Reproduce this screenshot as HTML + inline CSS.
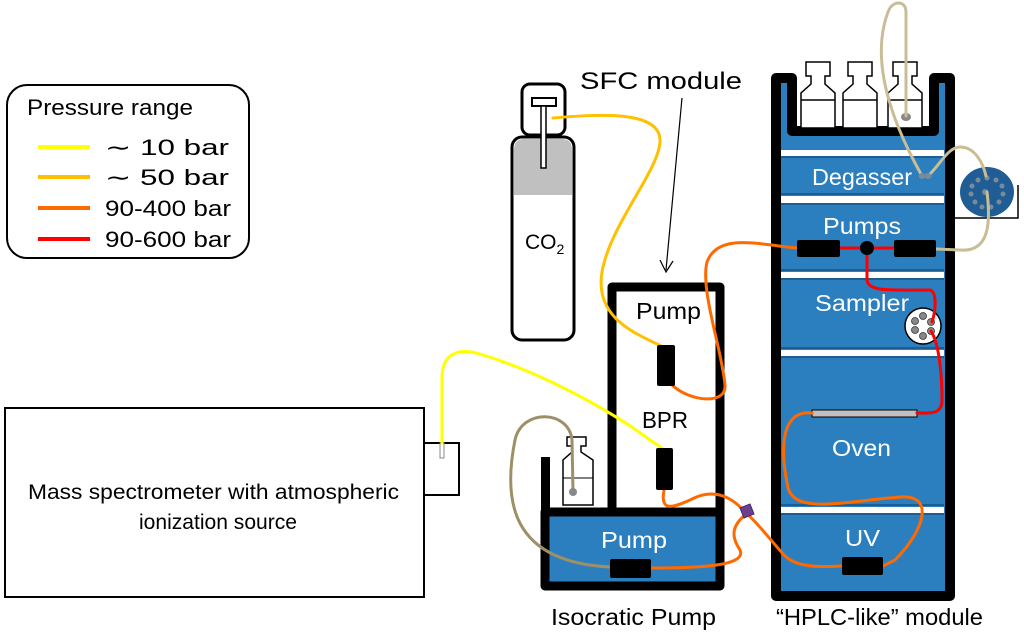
<!DOCTYPE html>
<html><head><meta charset="utf-8"><style>
html,body{margin:0;padding:0;background:#fff;}
svg{display:block;font-family:"Liberation Sans",sans-serif;}
</style></head><body>
<svg width="1024" height="633" viewBox="0 0 1024 633" xmlns="http://www.w3.org/2000/svg">
<!-- Legend -->
<rect x="7" y="85" width="242" height="173" rx="20" fill="#fff" stroke="#000" stroke-width="2"/>
<text x="27" y="115" font-size="22" textLength="166" lengthAdjust="spacingAndGlyphs">Pressure range</text>
<g stroke-width="4">
<line x1="38" y1="147" x2="90" y2="147" stroke="#ffff00"/>
<line x1="38" y1="177" x2="90" y2="177" stroke="#ffc000"/>
<line x1="38" y1="208" x2="90" y2="208" stroke="#ff6a00"/>
<line x1="38" y1="239" x2="90" y2="239" stroke="#ff0000"/>
</g>
<g font-size="22">
<text x="105" y="155" textLength="124" lengthAdjust="spacingAndGlyphs">∼ 10 bar</text>
<text x="105" y="185" textLength="124" lengthAdjust="spacingAndGlyphs">∼ 50 bar</text>
<text x="105" y="216" textLength="126" lengthAdjust="spacingAndGlyphs">90-400 bar</text>
<text x="105" y="247" textLength="126" lengthAdjust="spacingAndGlyphs">90-600 bar</text>
</g>
<!-- Mass spec -->
<rect x="5" y="408" width="419" height="189" fill="#fff" stroke="#000" stroke-width="2"/>
<rect x="424" y="443" width="35" height="52" fill="#fff" stroke="#000" stroke-width="2"/>
<rect x="440" y="443" width="4" height="15" fill="#fff" stroke="#888" stroke-width="1"/>
<text x="28" y="499" font-size="21" textLength="371" lengthAdjust="spacingAndGlyphs">Mass spectrometer  with atmospheric</text>
<text x="139" y="529" font-size="21" textLength="158" lengthAdjust="spacingAndGlyphs">ionization source</text>
<!-- CO2 bottle -->
<rect x="522" y="84" width="43" height="51" rx="8" fill="#fff" stroke="#000" stroke-width="3"/>
<rect x="512" y="137" width="62" height="203" rx="10" fill="#fff" stroke="#000" stroke-width="3"/>
<path d="M514 150 Q514 139 524 139 L562 139 Q572 139 572 150 L572 195 L514 195 Z" fill="#c0c0c0"/>
<rect x="532" y="98" width="24" height="8" fill="#fff" stroke="#000" stroke-width="2"/>
<rect x="541" y="106" width="5" height="62" fill="#fff" stroke="#000" stroke-width="1.5"/>
<text x="525" y="249" font-size="21">CO<tspan font-size="14" dy="5">2</tspan></text>
<!-- SFC module -->
<text x="580" y="89" font-size="24" textLength="162" lengthAdjust="spacingAndGlyphs">SFC module</text>
<line x1="682" y1="98" x2="666" y2="270" stroke="#000" stroke-width="1.2"/>
<path d="M660 260 L666 272 L673 261" fill="none" stroke="#000" stroke-width="1.2"/>
<rect x="612" y="287" width="108" height="230" fill="#fff" stroke="#000" stroke-width="9" stroke-linejoin="round"/>
<text x="636" y="319" font-size="23" textLength="65" lengthAdjust="spacingAndGlyphs">Pump</text>
<text x="642" y="428" font-size="23" textLength="46" lengthAdjust="spacingAndGlyphs">BPR</text>
<!-- isocratic pump -->
<rect x="541" y="457" width="9" height="60" fill="#000"/>
<rect x="545" y="512" width="175" height="74" fill="#2b7fbf" stroke="#000" stroke-width="9" stroke-linejoin="round"/>
<text x="601" y="548" font-size="23" fill="#fff" textLength="66" lengthAdjust="spacingAndGlyphs">Pump</text>
<!-- small bottle -->
<path d="M563 505 L563 460 L572 452 L572 446 L567 446 L567 437 L586 437 L586 446 L581 446 L581 452 L593 460 L593 505 Z" fill="#fff" stroke="#000" stroke-width="1.5"/>
<line x1="563" y1="478" x2="593" y2="478" stroke="#000" stroke-width="1"/>
<!-- HPLC module -->
<path d="M776 596 L776 78 L792 78 L792 131 L934 131 L934 78 L950 78 L950 596 Z" fill="#2b7fbf" stroke="#000" stroke-width="10" stroke-linejoin="round"/>
<g fill="#fff">
<rect x="781" y="150" width="163" height="6"/>
<rect x="781" y="196" width="163" height="7"/>
<rect x="781" y="272" width="163" height="6"/>
<rect x="781" y="350" width="163" height="6"/>
<rect x="781" y="507" width="163" height="6"/>
</g>
<g fill="#1d5d92">
<rect x="781" y="156" width="163" height="2"/><rect x="781" y="193" width="163" height="2"/>
<rect x="781" y="203" width="163" height="2"/><rect x="781" y="269" width="163" height="2"/>
<rect x="781" y="278" width="163" height="2"/><rect x="781" y="347" width="163" height="2"/>
<rect x="781" y="356" width="163" height="2"/><rect x="781" y="504" width="163" height="2"/>
<rect x="781" y="513" width="163" height="2"/>
</g>
<g font-size="23" fill="#fff">
<text x="812" y="185" textLength="100" lengthAdjust="spacingAndGlyphs">Degasser</text>
<text x="823" y="234" textLength="78" lengthAdjust="spacingAndGlyphs">Pumps</text>
<text x="815" y="311" textLength="94" lengthAdjust="spacingAndGlyphs">Sampler</text>
<text x="832" y="456" textLength="59" lengthAdjust="spacingAndGlyphs">Oven</text>
<text x="845" y="546" textLength="35" lengthAdjust="spacingAndGlyphs">UV</text>
</g>
<!-- bottles -->
<g fill="#fff" stroke="#000" stroke-width="1.5">
<path d="M801 128 L801 93 L811 84 L811 76 L806 76 L806 62 L830 62 L830 76 L825 76 L825 84 L835 93 L835 128 Z"/>
<path d="M843 128 L843 93 L853 84 L853 76 L848 76 L848 62 L872 62 L872 76 L867 76 L867 84 L877 93 L877 128 Z"/>
<path d="M888 128 L888 93 L898 84 L898 76 L893 76 L893 62 L917 62 L917 76 L912 76 L912 84 L922 93 L922 128 Z"/>
<line x1="801" y1="100" x2="835" y2="100"/><line x1="843" y1="100" x2="877" y2="100"/><line x1="888" y1="100" x2="922" y2="100"/>
</g>
<ellipse cx="906" cy="117" rx="5" ry="4" fill="#888"/>
<!-- rotary valve -->
<path d="M955 218 L1018 218 L1018 185" fill="none" stroke="#000" stroke-width="1.5"/>
<ellipse cx="987" cy="192" rx="27" ry="25" fill="#1f5d94"/>
<g fill="#7a8a99">
<circle cx="987" cy="178" r="2.5"/><circle cx="996" cy="180" r="2.5"/><circle cx="1002" cy="186" r="2.5"/><circle cx="1003" cy="194" r="2.5"/><circle cx="999" cy="202" r="2.5"/><circle cx="991" cy="207" r="2.5"/><circle cx="982" cy="207" r="2.5"/><circle cx="975" cy="202" r="2.5"/><circle cx="971" cy="194" r="2.5"/><circle cx="972" cy="186" r="2.5"/><circle cx="978" cy="180" r="2.5"/><circle cx="985" cy="192" r="3"/>
</g>
<!-- sampler valve -->
<circle cx="923" cy="326" r="18" fill="#fff" stroke="#000" stroke-width="1.5"/>
<g fill="#888" stroke="#333" stroke-width="0.8">
<circle cx="923" cy="316" r="3.5"/><circle cx="915" cy="321" r="3.5"/><circle cx="915" cy="330" r="3.5"/><circle cx="923" cy="336" r="3.5"/><circle cx="931" cy="331" r="3.5"/><circle cx="931" cy="322" r="3.5"/>
</g>
<!-- column -->
<rect x="812" y="410" width="105" height="7" fill="#c0c0c0" stroke="#000" stroke-width="1"/>
<!-- tubes -->
<g fill="none" stroke-linecap="round">
<path d="M906 116 L906 12 C906 0 892 0 888 12 C872 55 885 110 922 176" stroke="#c9bd96" stroke-width="3"/>
<path d="M928 176 C940 165 948 147 960 147 C975 147 983 163 986 176" stroke="#c9bd96" stroke-width="3"/>
<path d="M987 192 C992 232 985 252 960 250 L936 249" stroke="#c9bd96" stroke-width="3"/>
<path d="M573 492 L572 440 C569 410 522 408 515 440 C503 500 510 562 610 567" stroke="#9e9066" stroke-width="3"/>
<path d="M553 118 C600 114 662 110 660 142 C658 172 610 225 602 272 C594 320 640 335 661 346" stroke="#ffc000" stroke-width="3"/>
<path d="M442 443 L442 378 C442 352 460 348 480 354 C540 372 610 410 650 440 L662 448" stroke="#ffff00" stroke-width="3"/>
<path d="M797 248 C760 245 718 232 707 262 C700 290 722 350 725 385 C727 405 690 402 672 385" stroke="#ff6a00" stroke-width="3"/>
<path d="M664 490 C660 512 672 508 690 500 C712 488 730 495 745 512 C760 525 770 540 785 556 C800 570 830 566 842 566" stroke="#ff6a00" stroke-width="3"/>
<path d="M745 515 C733 525 730 535 740 550 C747 566 700 568 651 568" stroke="#ff6a00" stroke-width="3"/>
<path d="M812 413 C790 410 776 430 788 488 C796 514 840 502 900 497 C935 494 925 530 895 560 L883 566" stroke="#ff6a00" stroke-width="3"/>
<path d="M840 248 L894 248" stroke="#ff0000" stroke-width="3"/>
<path d="M867 248 L867 280 C868 292 890 290 930 290 C937 292 936 310 932 322" stroke="#ff0000" stroke-width="3"/>
<path d="M931 331 C940 345 942 380 942 400 C942 415 930 413 917 413" stroke="#ff0000" stroke-width="3"/>
</g>
<ellipse cx="922" cy="176" rx="3.5" ry="3" fill="#7a8a99"/><ellipse cx="928" cy="176" rx="3.5" ry="3" fill="#7a8a99"/>
<ellipse cx="573" cy="492" rx="4" ry="4" fill="#888"/>
<!-- pump elements -->
<g fill="#000">
<rect x="657" y="345" width="18" height="41" rx="2"/>
<rect x="656" y="448" width="17" height="42" rx="2"/>
<rect x="610" y="559" width="41" height="19" rx="2"/>
<rect x="797" y="240" width="43" height="17" rx="2"/>
<rect x="894" y="240" width="42" height="17" rx="2"/>
<circle cx="867" cy="248" r="7"/>
<rect x="842" y="557" width="41" height="18" rx="2"/>
</g>
<path d="M740 508 L750 504 L754 514 L744 518 Z" fill="#6b3f8f" stroke="#4a2a66" stroke-width="1"/>
<!-- bottom labels -->
<text x="551" y="625" font-size="23" textLength="165" lengthAdjust="spacingAndGlyphs">Isocratic Pump</text>
<text x="776" y="625" font-size="23" textLength="207" lengthAdjust="spacingAndGlyphs">“HPLC-like” module</text>
</svg>
</body></html>
